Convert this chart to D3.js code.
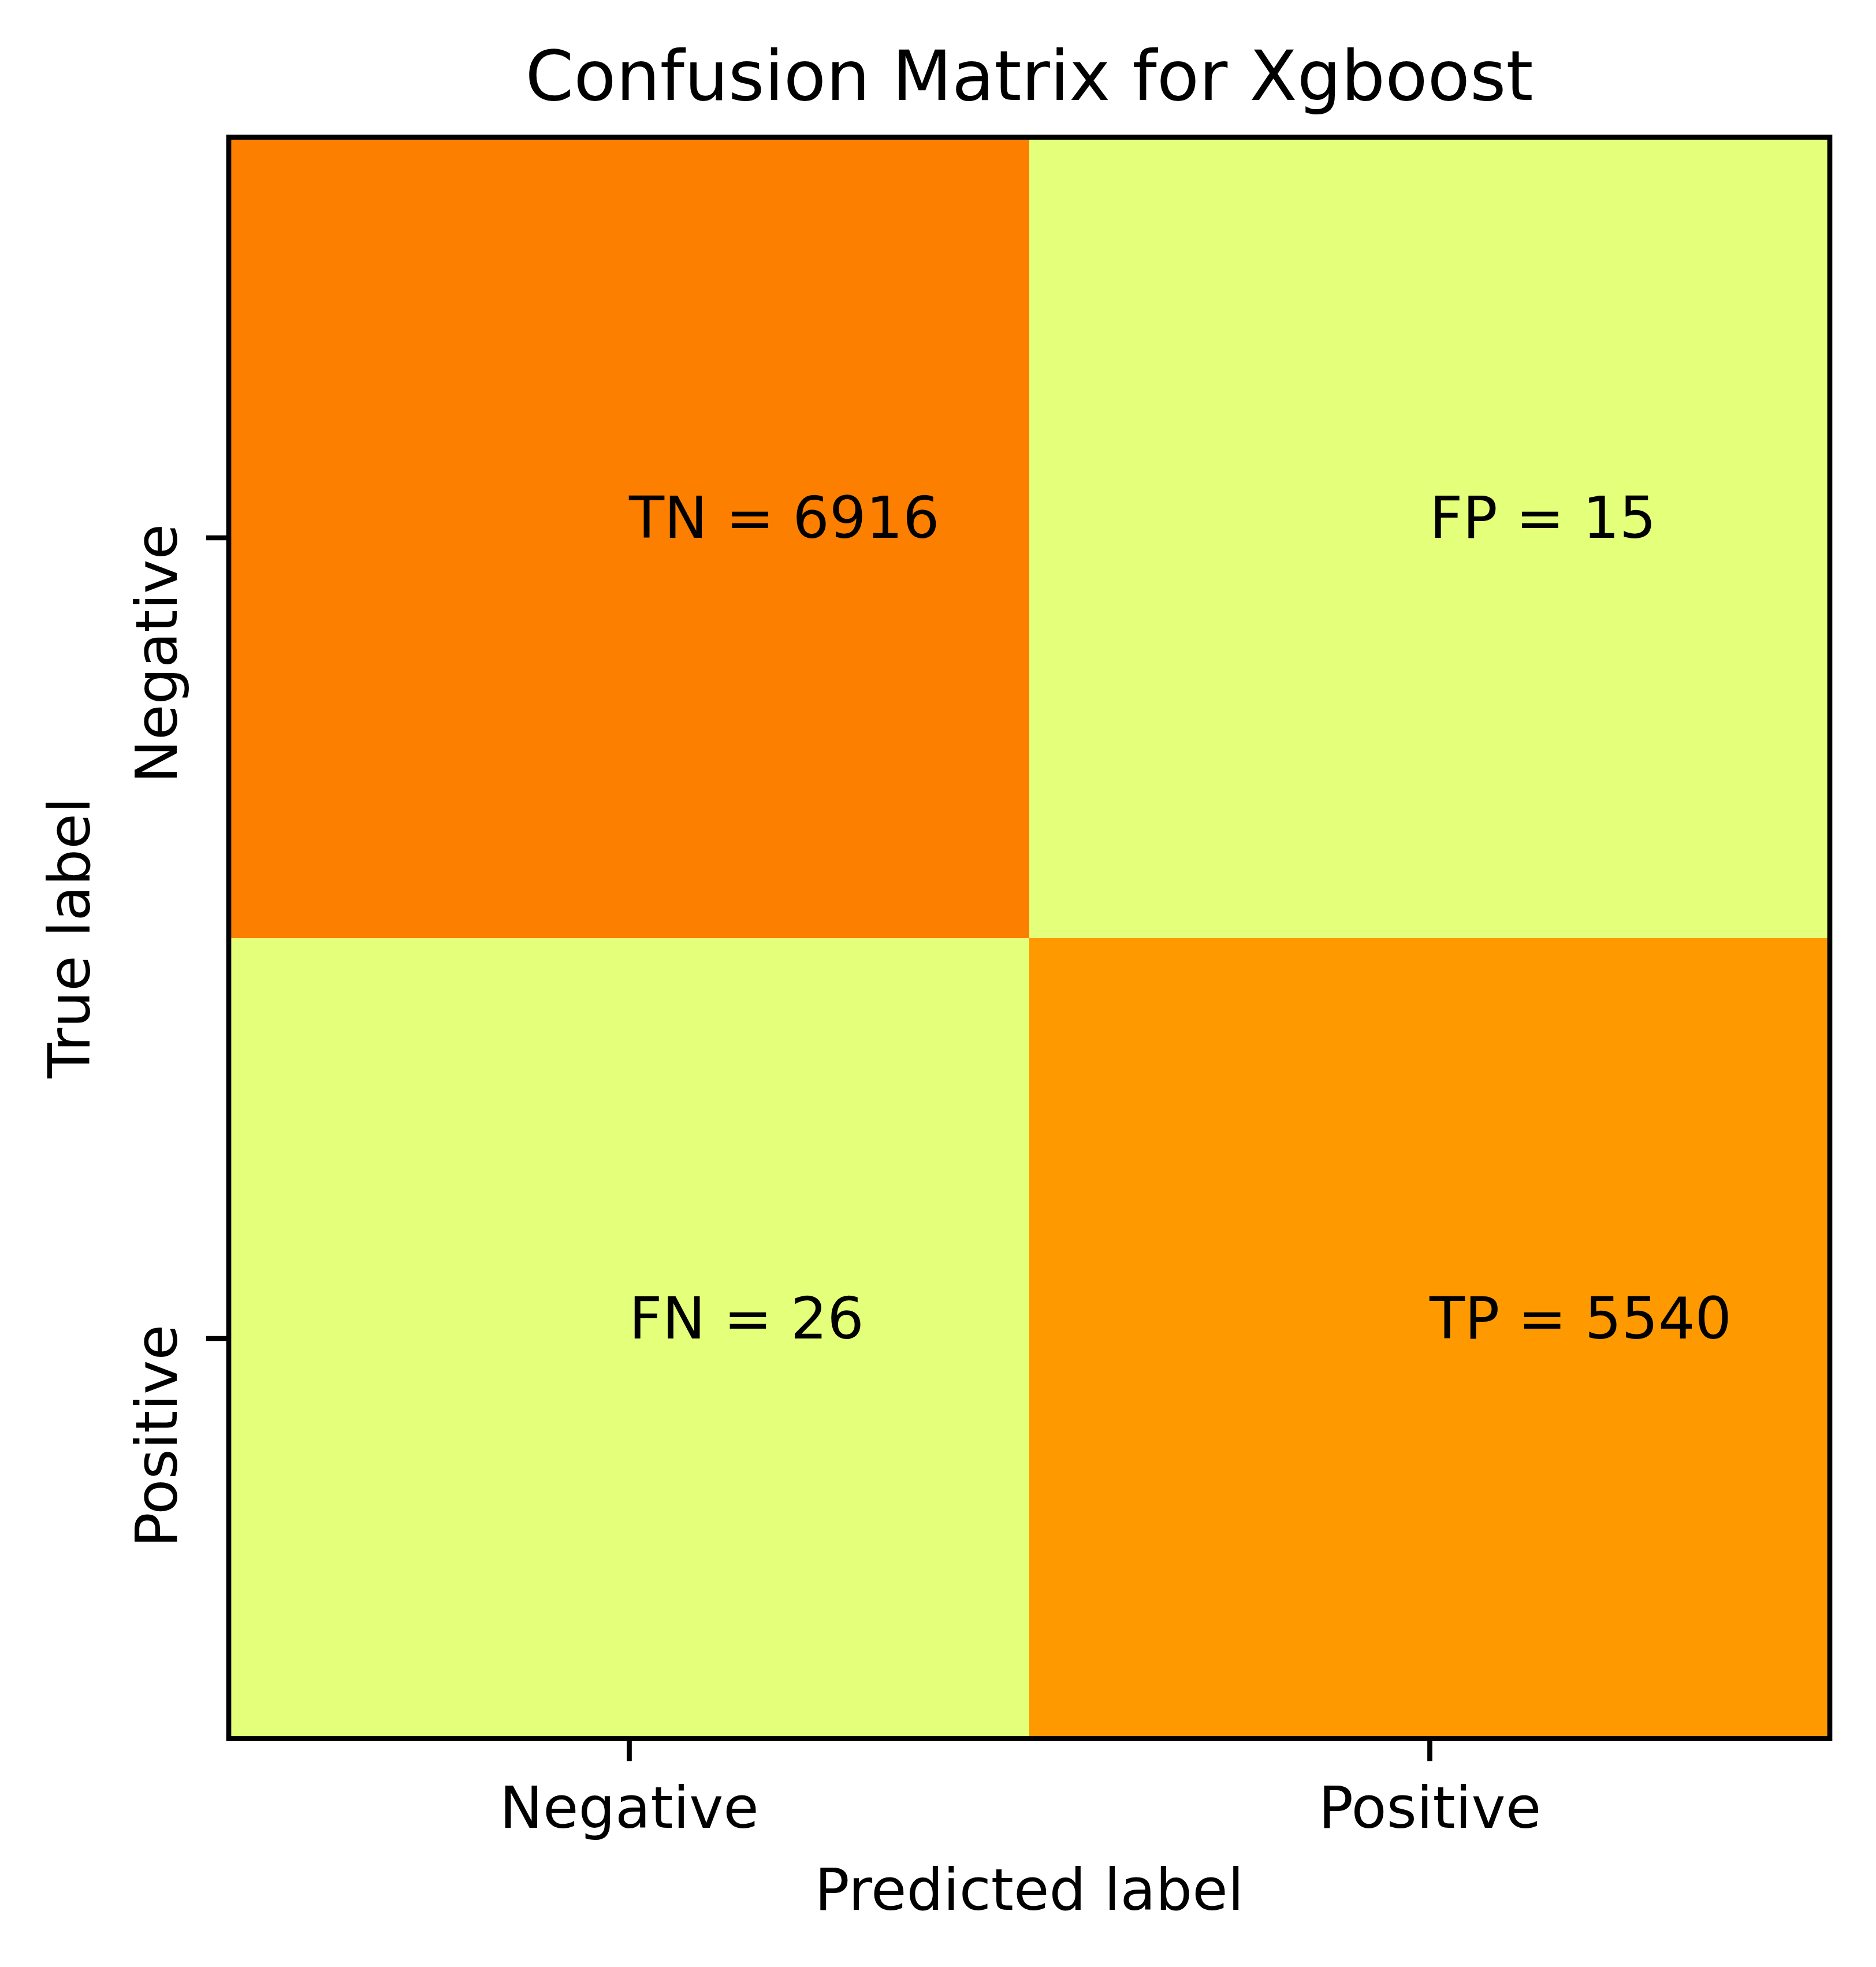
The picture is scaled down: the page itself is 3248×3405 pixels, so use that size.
<!DOCTYPE html>
<html>
<head>
<meta charset="utf-8">
<script src="https://cdn.jsdelivr.net/npm/d3@7"></script>
<style>
  body { margin: 0; background: #fff; }
  text { font-family: "DejaVu Sans", sans-serif; }
</style>
</head>
<body>
<script>
// confusion matrix values
var predLabels = ["Negative", "Positive"];
var trueLabels = ["Negative", "Positive"];
var cellNames = [["TN", "FP"], ["FN", "TP"]];
var counts = [[6916, 15], [26, 5540]];
var title = "Confusion Matrix for Xgboost";

// matplotlib "Wistia" colormap stops
var wistiaStops = [0, 0.25, 0.5, 0.75, 1];
var wistiaColors = ["rgb(228,255,122)", "rgb(255,232,26)", "rgb(255,189,0)", "rgb(255,160,0)", "rgb(252,127,0)"];

var width = 3248;
var height = 3405;

var margins = {
  top: 237.5,
  left: 396,
  right: 80,
  bottom: 395.5
};

var svg = d3.select("body").append("svg")
  .attr("width", width)
  .attr("height", height);

var plotW = width - margins.left - margins.right;   // 2772
var plotH = height - margins.top - margins.bottom;  // 2772

var xScale = d3.scaleLinear()
  .domain([-0.5, predLabels.length - 0.5])
  .range([margins.left, margins.left + plotW]);
var yScale = d3.scaleLinear()
  .domain([-0.5, trueLabels.length - 0.5])
  .range([margins.top, margins.top + plotH]);

var allCounts = d3.merge(counts);
var norm = d3.scaleLinear().domain(d3.extent(allCounts)).range([0, 1]);
var cmap = d3.scaleLinear().domain(wistiaStops).range(wistiaColors).interpolate(d3.interpolateRgb);

var cells = [];
counts.forEach(function(row, i) {
  row.forEach(function(v, j) {
    cells.push({row: i, col: j, value: v, name: cellNames[i][j]});
  });
});

// heatmap cells
svg.append("g")
  .selectAll("rect")
  .data(cells)
  .enter()
  .append("rect")
  .attr("x", function(d) { return xScale(d.col - 0.5); })
  .attr("y", function(d) { return yScale(d.row - 0.5); })
  .attr("width", function(d) { return xScale(d.col + 0.5) - xScale(d.col - 0.5); })
  .attr("height", function(d) { return yScale(d.row + 0.5) - yScale(d.row - 0.5); })
  .attr("fill", function(d) { return cmap(norm(d.value)); })
  .attr("shape-rendering", "crispEdges");

// cell annotations (left aligned, baseline at cell centre like plt.text)
svg.append("g")
  .selectAll("text")
  .data(cells)
  .enter()
  .append("text")
  .attr("x", function(d) { return xScale(d.col); })
  .attr("y", function(d) { return yScale(d.row); })
  .attr("font-size", 100)
  .attr("fill", "#000")
  .text(function(d) { return d.name + " = " + d.value; });

// x axis
var xAxis = d3.axisBottom(xScale)
  .tickValues(d3.range(predLabels.length))
  .tickFormat(function(i) { return predLabels[i]; })
  .tickSize(39)
  .tickSizeOuter(0);
var gx = svg.append("g")
  .attr("transform", "translate(0," + (margins.top + plotH) + ")")
  .call(xAxis);
gx.select(".domain").remove();
gx.selectAll(".tick line").attr("stroke", "#000").attr("stroke-width", 8.7);
gx.selectAll(".tick text")
  .attr("font-size", 100)
  .attr("font-family", "DejaVu Sans")
  .attr("fill", "#000")
  .attr("dy", 0)
  .attr("y", 154);

// y axis, rotated labels hang below their tick
var yAxis = d3.axisLeft(yScale)
  .tickValues(d3.range(trueLabels.length))
  .tickFormat(function(i) { return trueLabels[i]; })
  .tickSize(39)
  .tickSizeOuter(0);
var gy = svg.append("g")
  .attr("transform", "translate(" + margins.left + ",0)")
  .call(yAxis);
gy.select(".domain").remove();
gy.selectAll(".tick line").attr("stroke", "#000").attr("stroke-width", 8.7);
gy.selectAll(".tick text")
  .attr("font-size", 100)
  .attr("font-family", "DejaVu Sans")
  .attr("fill", "#000")
  .attr("x", 0)
  .attr("y", 0)
  .attr("dy", 0)
  .attr("text-anchor", "end")
  .attr("transform", "translate(-90,-24) rotate(-90)");

// frame
svg.append("rect")
  .attr("x", margins.left)
  .attr("y", margins.top)
  .attr("width", plotW)
  .attr("height", plotH)
  .attr("fill", "none")
  .attr("stroke", "#000")
  .attr("stroke-width", 8.7);

// title and axis labels
svg.append("text")
  .attr("x", margins.left + plotW / 2)
  .attr("y", 173)
  .attr("text-anchor", "middle")
  .attr("font-size", 120)
  .text(title);

svg.append("text")
  .attr("x", margins.left + plotW / 2)
  .attr("y", 3306)
  .attr("text-anchor", "middle")
  .attr("font-size", 100)
  .text("Predicted label");

svg.append("text")
  .attr("transform", "translate(155," + (margins.top + plotH / 2) + ") rotate(-90)")
  .attr("text-anchor", "middle")
  .attr("font-size", 100)
  .text("True label");
</script>
</body>
</html>
